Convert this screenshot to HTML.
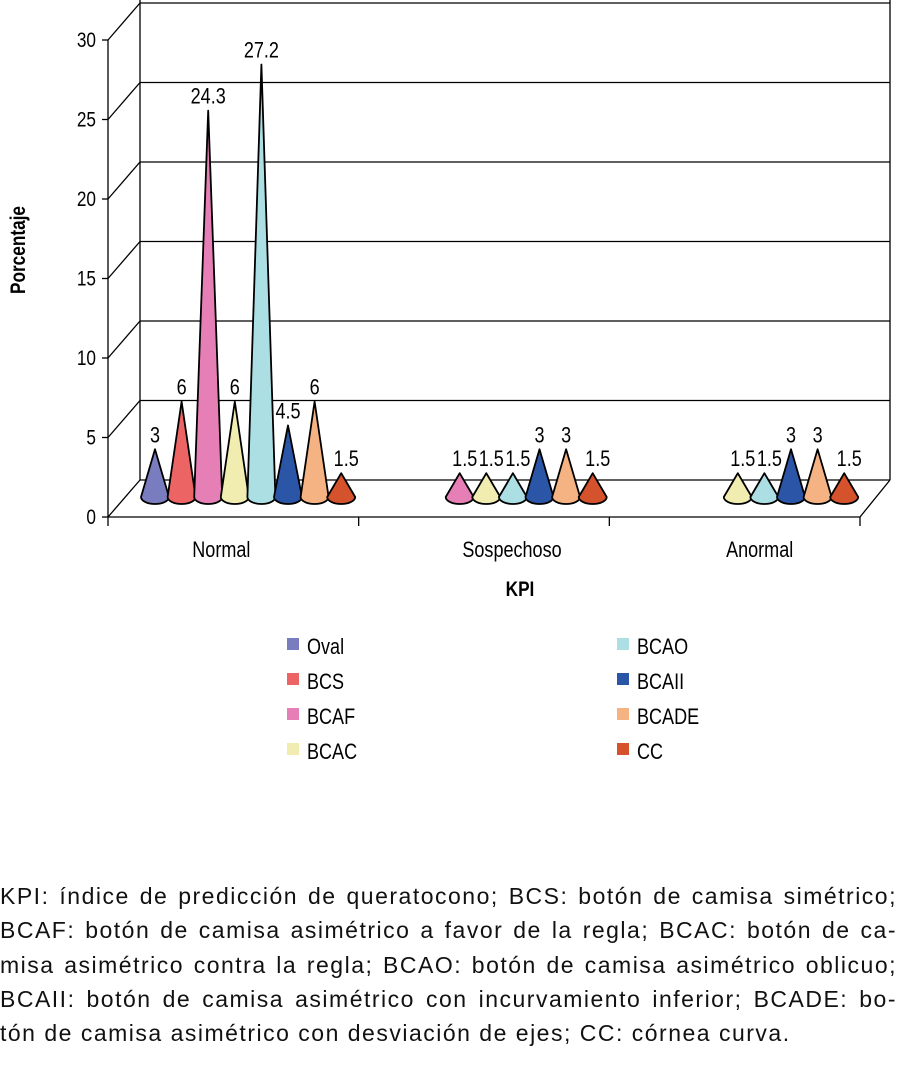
<!DOCTYPE html>
<html><head><meta charset="utf-8"><style>
body{margin:0;background:#fff;width:897px;height:1082px;overflow:hidden;font-family:"Liberation Sans",sans-serif}
svg text{font-family:"Liberation Sans",sans-serif}
.cap{position:absolute;left:0;top:879px;width:897px;font-family:"Liberation Sans",sans-serif;font-size:23px;line-height:34.3px;color:#111;letter-spacing:1.5px}
.cap div{text-align:justify;text-align-last:justify;white-space:nowrap;height:34.3px}
.cap div.last{text-align-last:left}
</style></head><body>
<svg id="chart" width="897" height="860" style="position:absolute;left:0;top:0" xmlns="http://www.w3.org/2000/svg"></svg>
<div class="cap">
<div>KPI: índice de predicción de queratocono; BCS: botón de camisa simétrico;</div>
<div>BCAF: botón de camisa asimétrico a favor de la regla; BCAC: botón de ca-</div>
<div>misa asimétrico contra la regla; BCAO: botón de camisa asimétrico oblicuo;</div>
<div>BCAII: botón de camisa asimétrico con incurvamiento inferior; BCADE: bo-</div>
<div class="last">tón de camisa asimétrico con desviación de ejes; CC: córnea curva.</div>
</div>
<script>
const categories=["Normal","Sospechoso","Anormal"];
const seriesNames=["Oval","BCS","BCAF","BCAC","BCAO","BCAII","BCADE","CC"];
const seriesColors=["#7a7cc0","#ec6463","#e67fb6","#f1edb0","#abdfe4","#2b55a6","#f5b283","#d4532c"];
const oval=[3,0,0];
const bcs=[6,0,0];
const bcaf=[24.3,1.5,0];
const bcac=[6,1.5,1.5];
const bcao=[27.2,1.5,1.5];
const bcaii=[4.5,3,3];
const bcade=[6,3,3];
const cc=[1.5,1.5,1.5];
const seriesValues=[oval,bcs,bcaf,bcac,bcao,bcaii,bcade,cc];
const yTicks=[0,5,10,15,20,25,30];

const svg=document.getElementById('chart');
const NS="http://www.w3.org/2000/svg";
function mk(t,a,txt){const e=document.createElementNS(NS,t);for(const k in a)e.setAttribute(k,a[k]);if(txt!==undefined)e.textContent=txt;svg.appendChild(e);return e;}
function tx(x,y,s,anchor,size,bold,rot){
  const a={x:0,y:0,'text-anchor':anchor,'font-size':size,transform:`translate(${x},${y})${rot?' rotate(-90)':''} scale(0.82,1)`};
  if(bold)a['font-weight']='bold';
  return mk('text',a,s);
}
const DX=32,DY=37,X0=108,X1=860,Y0=517,S=15.9;
function yFront(v){return Y0-v*S;}
function yBack(v){return Y0-DY-v*S;}
function xCone(c,s){return 155+c*251.5+s*26.6;}
function yApex(v){return 497-v*S;}

let e;
e=mk('line',{x1:X0+DX,y1:0,x2:X0+DX,y2:Y0-DY,stroke:'#000','stroke-width':1.3});
e=mk('line',{x1:X1+DX-2,y1:0,x2:X1+DX-2,y2:Y0-DY,stroke:'#000','stroke-width':1.3});
yTicks.forEach(v=>{
  const g=mk('line',{x1:X0+DX,y1:yBack(v),x2:X1+DX-2,y2:yBack(v),stroke:'#000','stroke-width':1.3});
  
  const d=mk('line',{x1:X0,y1:yFront(v),x2:X0+DX,y2:yBack(v),stroke:'#000','stroke-width':1.3});
  
  const t=mk('line',{x1:X0-6,y1:yFront(v),x2:X0,y2:yFront(v),stroke:'#000','stroke-width':1.3});
  
  const l=tx(X0-12,yFront(v)+7,String(v),'end',21);
  
});
e=mk('line',{x1:X0,y1:yFront(30),x2:X0,y2:Y0,stroke:'#000','stroke-width':1.3});
e=mk('line',{x1:X0,y1:Y0,x2:X1,y2:Y0,stroke:'#000','stroke-width':1.3});
e=mk('line',{x1:X1,y1:Y0,x2:X1+DX-2,y2:Y0-DY,stroke:'#000','stroke-width':1.3});
for(let i=0;i<=categories.length;i++){
  const x=X0+i*(X1-X0)/categories.length;
  const t=mk('line',{x1:x,y1:Y0,x2:x,y2:Y0+9,stroke:'#000','stroke-width':1.3});
  
}
const labelShift=[-12,28,25];
categories.forEach((c,i)=>{
  const x=X0+(i+0.5)*(X1-X0)/categories.length+labelShift[i];
  const t=tx(x,557,c,'middle',22);
  
});
e=tx(520,596,'KPI','middle',21,true);
e=tx(25,250,'Porcentaje','middle',21,true,true);

categories.forEach((c,ci)=>{
  seriesValues.forEach((arr,si)=>{
    const v=arr[ci];if(!v)return;
    const x=xCone(ci,si),ya=yApex(v),yb=497,rx=14,ry=7;
    const p=mk('path',{d:`M${x-rx},${yb} L${x},${ya} L${x+rx},${yb} A${rx},${ry} 0 0 1 ${x-rx},${yb} Z`,fill:seriesColors[si],stroke:'#000','stroke-width':1.8,'stroke-linejoin':'round'});
    
    
    const t=tx(x+(v<2?5:0),ya-7,String(v),'middle',22);
    
    
  });
});

seriesNames.forEach((n,i)=>{
  const col=Math.floor(i/4),row=i%4;
  const x=col?617:287,y=645+row*35;
  const r=mk('rect',{x:x,y:y-7,width:12,height:12,fill:seriesColors[i]});
  
  const t=tx(x+20,y+9,n,'start',22);
  
});
</script>
</body></html>
